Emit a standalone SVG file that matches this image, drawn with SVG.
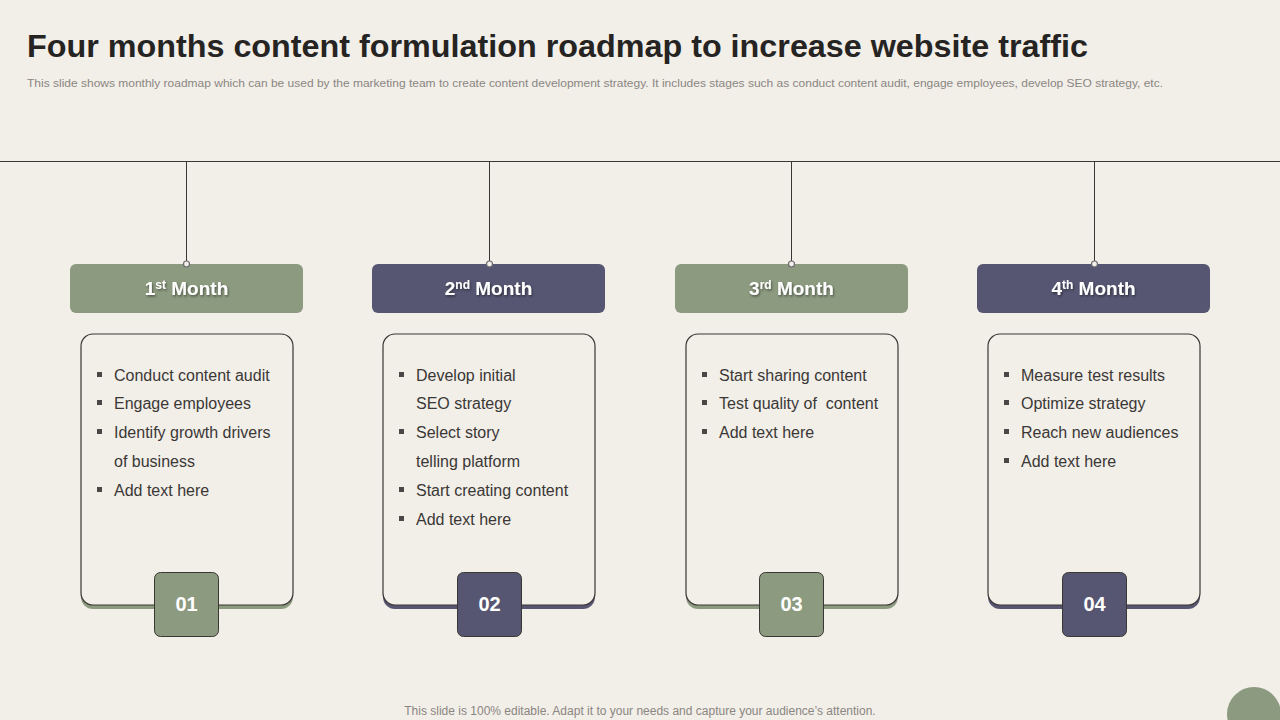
<svg xmlns="http://www.w3.org/2000/svg" width="1280" height="720" viewBox="0 0 1280 720">
<defs>
<style>
.title{font-family:"Liberation Sans",Arial,sans-serif;font-weight:bold;font-size:31px;fill:#262422}
.sub{font-family:"Liberation Sans",Arial,sans-serif;font-size:11px;fill:#8a8682}
.foot{font-family:"Liberation Sans",Arial,sans-serif;font-size:12px;fill:#8a8682}
.hd{font-family:"Liberation Sans",Arial,sans-serif;font-weight:bold;font-size:19px;fill:#ffffff;filter:url(#sh)}
.sup{font-size:12px}
.li{font-family:"Liberation Sans",Arial,sans-serif;font-size:16px;fill:#3a3836}
.num{font-family:"Liberation Sans",Arial,sans-serif;font-weight:bold;font-size:20px;fill:#ffffff}
.g{fill:#8c9a80}
.p{fill:#565672}
.card{fill:#f2eee8;stroke:#3a3633;stroke-width:1.2}
.nb{stroke:#3a3633;stroke-width:1}
.ln{stroke:#3a3633;stroke-width:1;fill:none}
.dot{fill:#f2eee8;stroke:#6a6a70;stroke-width:1.2}
.bul{fill:#4a4846}
</style>
<filter id="sh" x="-10%" y="-30%" width="130%" height="170%">
<feDropShadow dx="1" dy="1.5" stdDeviation="0.8" flood-color="#000" flood-opacity="0.45"/>
</filter>
</defs>
<rect width="1280" height="720" fill="#f2eee8"/>
<text class="title" x="27" y="57" textLength="1061" lengthAdjust="spacingAndGlyphs">Four months content formulation roadmap to increase website traffic</text>
<text class="sub" x="27" y="87" textLength="1136" lengthAdjust="spacingAndGlyphs">This slide shows monthly roadmap which can be used by the marketing team to create content development strategy. It includes stages such as conduct content audit, engage employees, develop SEO strategy,  etc.</text>
<g id="connectors">
<line class="ln" x1="0" y1="161.5" x2="1280" y2="161.5"/>
<line class="ln" x1="186.5" y1="161.5" x2="186.5" y2="264"/>
<line class="ln" x1="489.5" y1="161.5" x2="489.5" y2="264"/>
<line class="ln" x1="791.5" y1="161.5" x2="791.5" y2="264"/>
<line class="ln" x1="1094.5" y1="161.5" x2="1094.5" y2="264"/>
</g>
<g id="month1">
<rect class="g" x="70" y="264" width="233" height="49" rx="6"/>
<circle class="dot" cx="186.5" cy="264" r="3"/>
<text class="hd" x="186.5" y="295" text-anchor="middle">1<tspan class="sup" dy="-6">st</tspan><tspan dy="6"> Month</tspan></text>
<rect class="g" x="81" y="338" width="212" height="271" rx="12"/>
<rect class="card" x="81" y="334" width="212" height="271" rx="12"/>
<rect class="bul" x="97" y="372" width="5" height="5"/>
<text class="li" x="114" y="381">Conduct content audit</text>
<rect class="bul" x="97" y="400" width="5" height="5"/>
<text class="li" x="114" y="409">Engage employees</text>
<rect class="bul" x="97" y="429" width="5" height="5"/>
<text class="li" x="114" y="438">Identify growth drivers</text>
<text class="li" x="114" y="467">of business</text>
<rect class="bul" x="97" y="487" width="5" height="5"/>
<text class="li" x="114" y="496">Add text here</text>
<rect class="g nb" x="154.5" y="572.5" width="64" height="64" rx="6"/>
<text class="num" x="186.5" y="611" text-anchor="middle">01</text>
</g>
<g id="month2">
<rect class="p" x="372" y="264" width="233" height="49" rx="6"/>
<circle class="dot" cx="489.5" cy="264" r="3"/>
<text class="hd" x="488.5" y="295" text-anchor="middle">2<tspan class="sup" dy="-6">nd</tspan><tspan dy="6"> Month</tspan></text>
<rect class="p" x="383" y="338" width="212" height="271" rx="12"/>
<rect class="card" x="383" y="334" width="212" height="271" rx="12"/>
<rect class="bul" x="399" y="372" width="5" height="5"/>
<text class="li" x="416" y="381">Develop initial</text>
<text class="li" x="416" y="409">SEO strategy</text>
<rect class="bul" x="399" y="429" width="5" height="5"/>
<text class="li" x="416" y="438">Select story</text>
<text class="li" x="416" y="467">telling platform</text>
<rect class="bul" x="399" y="487" width="5" height="5"/>
<text class="li" x="416" y="496">Start creating content</text>
<rect class="bul" x="399" y="516" width="5" height="5"/>
<text class="li" x="416" y="525">Add text here</text>
<rect class="p nb" x="457.5" y="572.5" width="64" height="64" rx="6"/>
<text class="num" x="489.5" y="611" text-anchor="middle">02</text>
</g>
<g id="month3">
<rect class="g" x="675" y="264" width="233" height="49" rx="6"/>
<circle class="dot" cx="791.5" cy="264" r="3"/>
<text class="hd" x="791.5" y="295" text-anchor="middle">3<tspan class="sup" dy="-6">rd</tspan><tspan dy="6"> Month</tspan></text>
<rect class="g" x="686" y="338" width="212" height="271" rx="12"/>
<rect class="card" x="686" y="334" width="212" height="271" rx="12"/>
<rect class="bul" x="702" y="372" width="5" height="5"/>
<text class="li" x="719" y="381">Start sharing content</text>
<rect class="bul" x="702" y="400" width="5" height="5"/>
<text class="li" x="719" y="409" xml:space="preserve">Test quality of  content</text>
<rect class="bul" x="702" y="429" width="5" height="5"/>
<text class="li" x="719" y="438">Add text here</text>
<rect class="g nb" x="759.5" y="572.5" width="64" height="64" rx="6"/>
<text class="num" x="791.5" y="611" text-anchor="middle">03</text>
</g>
<g id="month4">
<rect class="p" x="977" y="264" width="233" height="49" rx="6"/>
<circle class="dot" cx="1094.5" cy="264" r="3"/>
<text class="hd" x="1093.5" y="295" text-anchor="middle">4<tspan class="sup" dy="-6">th</tspan><tspan dy="6"> Month</tspan></text>
<rect class="p" x="988" y="338" width="212" height="271" rx="12"/>
<rect class="card" x="988" y="334" width="212" height="271" rx="12"/>
<rect class="bul" x="1004" y="372" width="5" height="5"/>
<text class="li" x="1021" y="381">Measure test results</text>
<rect class="bul" x="1004" y="400" width="5" height="5"/>
<text class="li" x="1021" y="409">Optimize strategy</text>
<rect class="bul" x="1004" y="429" width="5" height="5"/>
<text class="li" x="1021" y="438">Reach new audiences</text>
<rect class="bul" x="1004" y="458" width="5" height="5"/>
<text class="li" x="1021" y="467">Add text here</text>
<rect class="p nb" x="1062.5" y="572.5" width="64" height="64" rx="6"/>
<text class="num" x="1094.5" y="611" text-anchor="middle">04</text>
</g>
<text class="foot" x="640" y="715" text-anchor="middle">This slide is 100% editable. Adapt it to your needs and capture your audience’s attention.</text>
<circle class="g" cx="1254" cy="714" r="27"/>
</svg>
